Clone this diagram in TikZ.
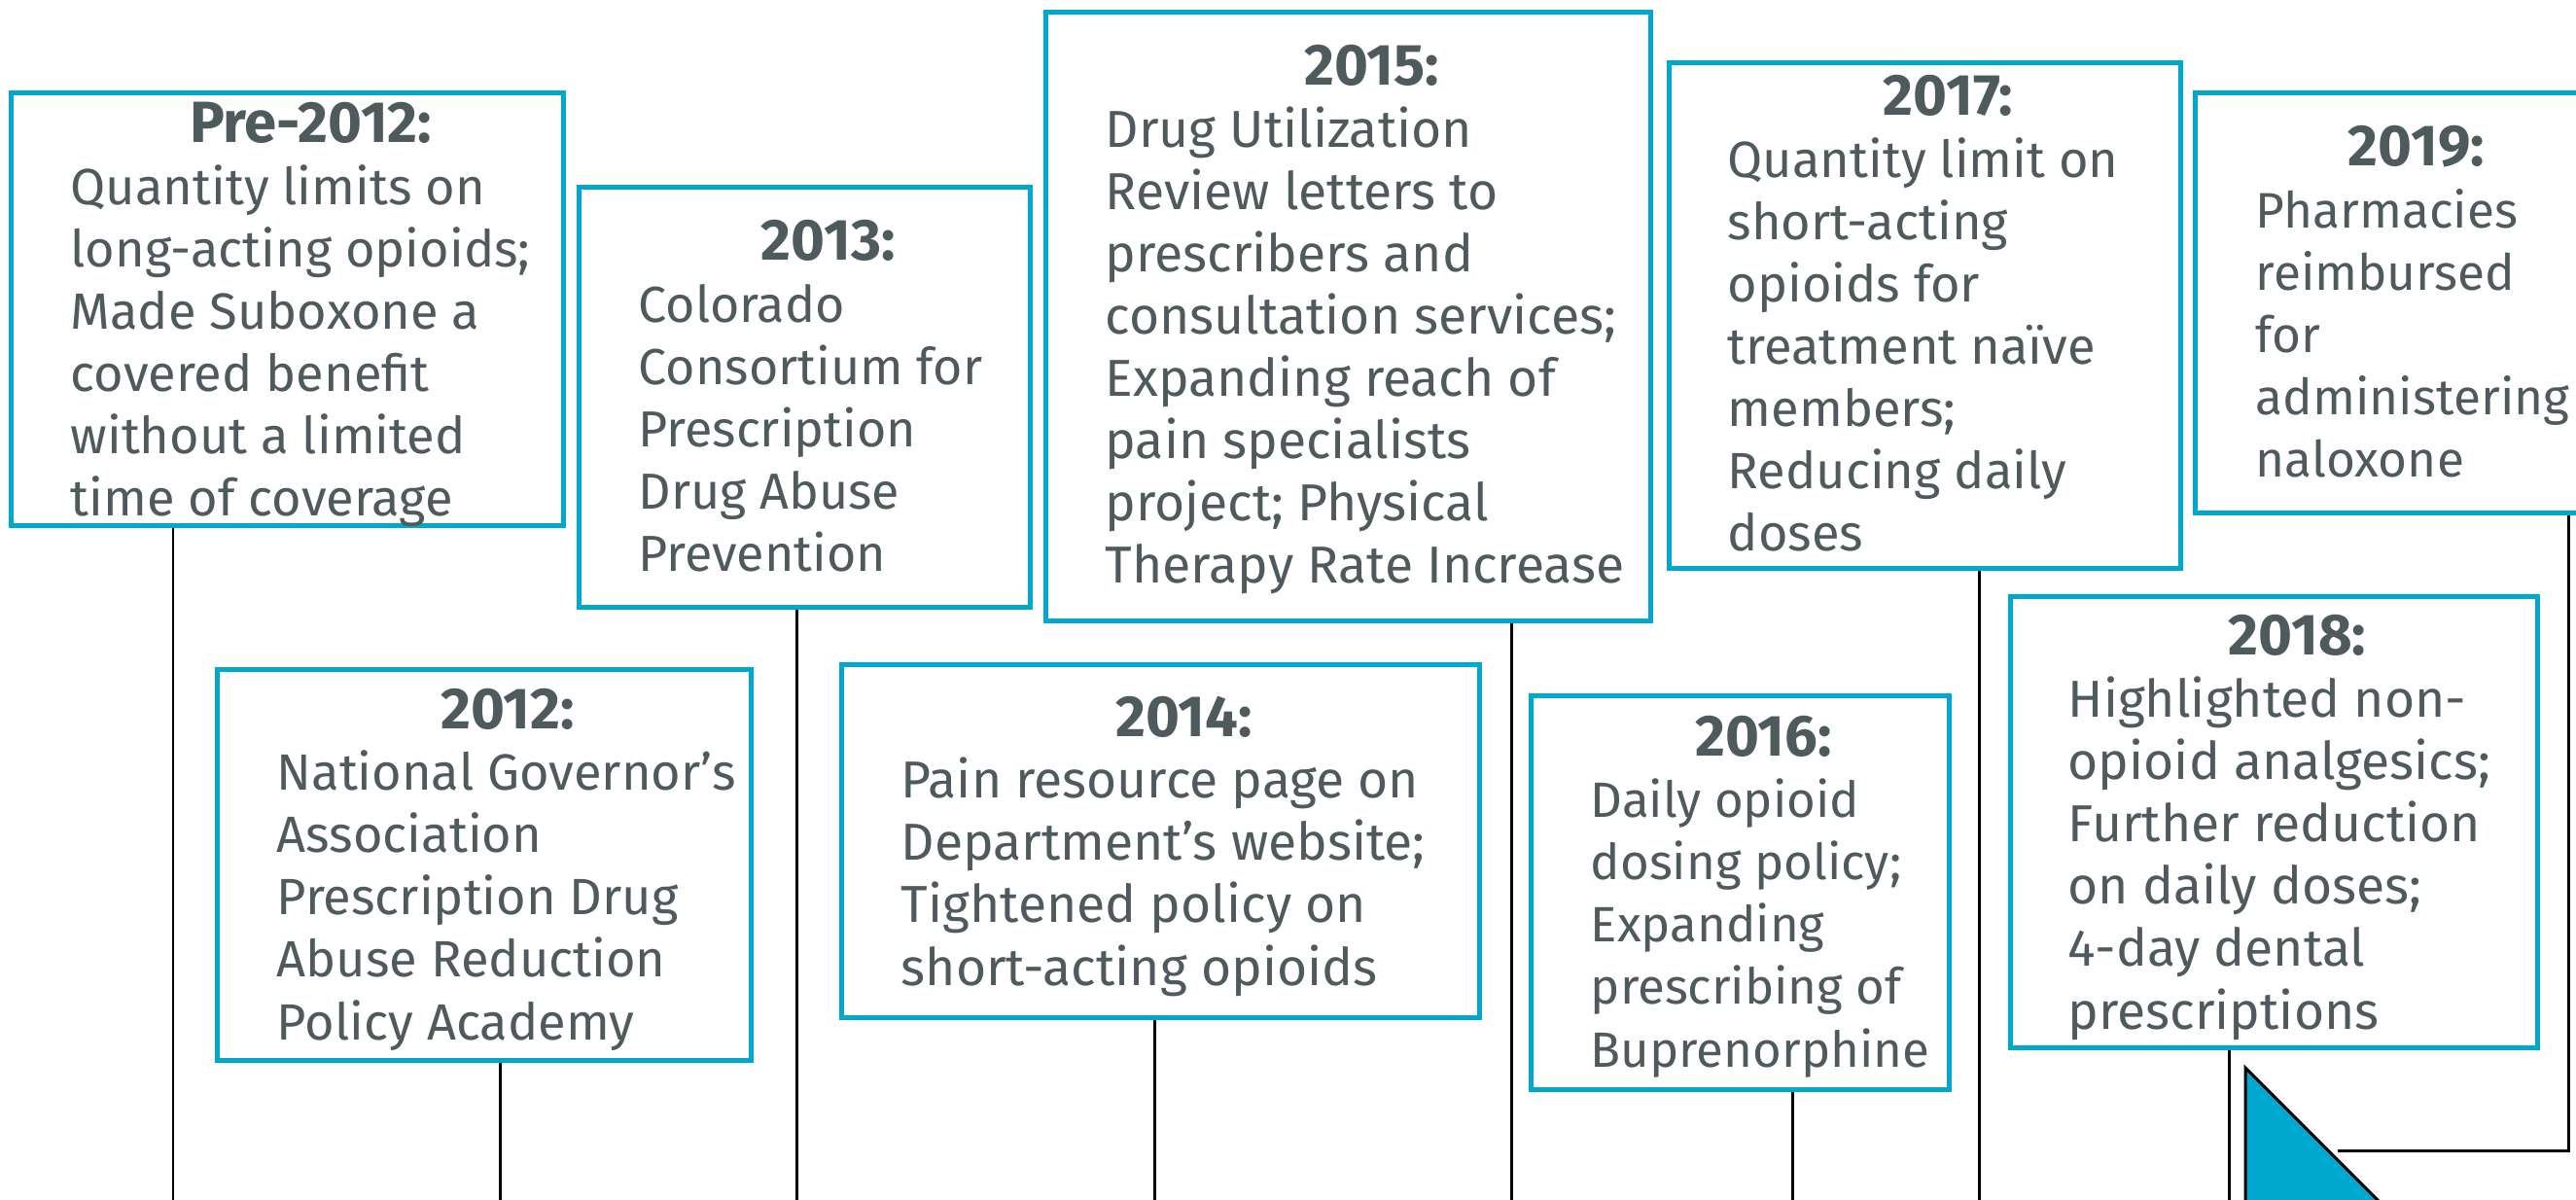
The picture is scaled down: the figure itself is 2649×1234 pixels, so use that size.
\documentclass[tikz,border=0pt]{standalone}
\usepackage{fontspec}
\setmainfont{Fira Sans}
\definecolor{boxblue}{HTML}{00A7CF}
\definecolor{textgray}{HTML}{4F5A5C}
\begin{document}
\begin{tikzpicture}[x=0.01cm, y=-0.01cm,
    yearbox/.style={draw=boxblue, line width=1.55pt, fill=white, inner sep=0pt},
    yeartitle/.style={anchor=base, inner sep=0pt, text=textgray, font=\fontsize{17}{18.21}\selectfont\bfseries},
    yeartext/.style={anchor=base west, inner sep=0pt, align=left, text=textgray, font=\fontsize{#1}{18.21}\selectfont},
    tick/.style={draw=black, line width=0.85pt}]
    \useasboundingbox (0,0) rectangle (2649,1234);
    \clip (0,0) rectangle (2649,1234);
    % timeline ticks at the bottom edge
    \coordinate (t1) at (178,1234);
    \coordinate (t2) at (514,1234);
    \coordinate (t3) at (819,1234);
    \coordinate (t4) at (1187,1234);
    \coordinate (t5) at (1554,1234);
    \coordinate (t6) at (1843,1234);
    \coordinate (t7) at (2035,1234);
    \coordinate (t8) at (2292,1234);
    \coordinate (tri) at (2404,1183);
    % arrow head, cut by the edge
    \draw[fill=boxblue, line width=0.85pt] (2309,1098) -- (2309,1320) -- (2531,1320) -- cycle;
    % the boxes
    \node (pre12) at (295.5,318) [yearbox, minimum width=5.675cm, minimum height=4.445cm] {};
    \node (y13) at (827.5,408.5) [yearbox, minimum width=4.635cm, minimum height=4.315cm] {};
    \node (y15) at (1386.5,325.5) [yearbox, minimum width=6.215cm, minimum height=6.255cm] {};
    \node (y17) at (1979.5,324.5) [yearbox, minimum width=5.255cm, minimum height=5.195cm] {};
    \node (y19) at (2461,311.5) [yearbox, minimum width=4.065cm, minimum height=4.315cm] {};
    \node (y12) at (498,889.5) [yearbox, minimum width=5.485cm, minimum height=4.015cm] {};
    \node (y14) at (1193.5,865) [yearbox, minimum width=6.555cm, minimum height=3.625cm] {};
    \node (y16) at (1789.5,918) [yearbox, minimum width=4.295cm, minimum height=4.045cm] {};
    \node (y18) at (2338.5,845.5) [yearbox, minimum width=5.415cm, minimum height=4.635cm] {};
    % the texts (body nodes sit on their last line)
    \node (pre12t) at (319.5,147) [yeartitle] {Pre-2012:};
    \node (pre12b) at (72,531) [yeartext=14.9] {Quantity limits on\\long-acting opioids;\\Made Suboxone a\\covered benefit\\without a limited\\time of coverage};
    \node (y13t) at (851.5,268) [yeartitle] {2013:};
    \node (y13b) at (656,588) [yeartext=14.8] {Colorado\\Consortium for\\Prescription\\Drug Abuse\\Prevention};
    \node (y15t) at (1410.5,88) [yeartitle] {2015:};
    \node (y15b) at (1136,600) [yeartext=15.2] {Drug Utilization\\Review letters to\\prescribers and\\consultation services;\\Expanding reach of\\pain specialists\\project; Physical\\Therapy Rate Increase};
    \node (y17t) at (2003.5,119) [yeartitle] {2017:};
    \node (y17b) at (1776,567) [yeartext=14.9] {Quantity limit on\\short-acting\\opioids for\\treatment naïve\\members;\\Reducing daily\\doses};
    \node (y19t) at (2485,171) [yeartitle] {2019:};
    \node (y19b) at (2319,491) [yeartext=14.6] {Pharmacies\\reimbursed\\for\\administering\\naloxone};
    \node (y12t) at (522,749) [yeartitle] {2012:};
    \node (y12b) at (284,1069) [yeartext=14.9] {National Governor’s\\Association\\Prescription Drug\\Abuse Reduction\\Policy Academy};
    \node (y14t) at (1217.5,757) [yeartitle] {2014:};
    \node (y14b) at (926,1013) [yeartext=15.2] {Pain resource page on\\Department’s website;\\Tightened policy on\\short-acting opioids};
    \node (y16t) at (1813.5,777) [yeartitle] {2016:};
    \node (y16b) at (1635,1097) [yeartext=14.5] {Daily opioid\\dosing policy;\\Expanding\\prescribing of\\Buprenorphine};
    \node (y18t) at (2362.5,673) [yeartitle] {2018:};
    \node (y18b) at (2126,1058) [yeartext=15.2] {Highlighted non-\\opioid analgesics;\\Further reduction\\on daily doses;\\4-day dental\\prescriptions};
    % ticks down from the boxes
    \draw[tick] (t1 |- pre12.south) -- (t1);
    \draw[tick] (t2 |- y12.south) -- (t2);
    \draw[tick] (t3 |- y13.south) -- (t3);
    \draw[tick] (t4 |- y14.south) -- (t4);
    \draw[tick] (t5 |- y15.south) -- (t5);
    \draw[tick] (t6 |- y16.south) -- (t6);
    \draw[tick] (t7 |- y17.south) -- (t7);
    \draw[tick] (t8 |- y18.south) -- (t8);
    \draw[tick] ([xshift=1.8cm]y19.south) |- (tri);
\end{tikzpicture}
\end{document}
